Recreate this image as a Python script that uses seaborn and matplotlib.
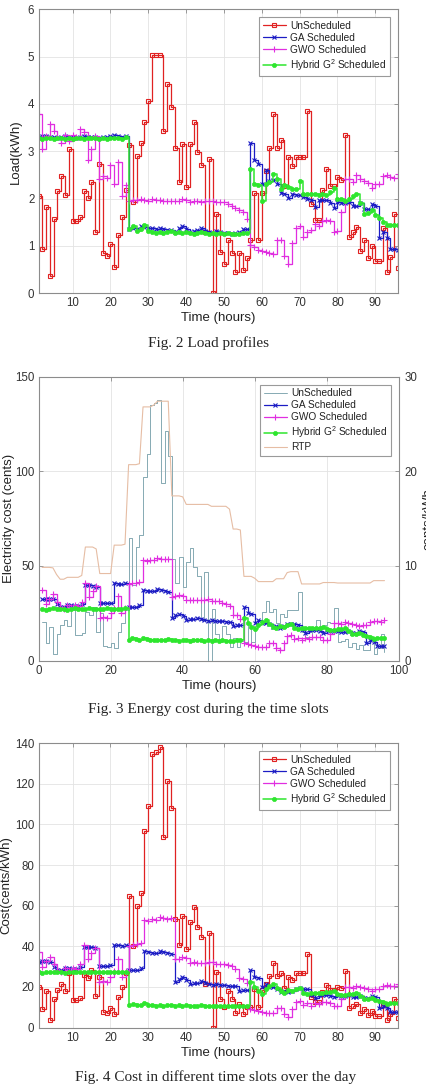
import numpy as np
import matplotlib
matplotlib.use("Agg")
import matplotlib.pyplot as plt
import seaborn as sns

hours = np.arange(1, 97)

# hourly load (kWh)
unsched_load = [
    2.05, 0.93, 1.83, 0.37, 1.57, 2.17, 2.47, 2.07, 3.04, 1.53,
    1.53, 1.62, 2.16, 2.02, 2.36, 1.30, 2.73, 0.85, 0.78, 1.04,
    0.55, 1.23, 1.62, 2.19, 3.14, 1.93, 2.89, 3.18, 3.61, 4.07,
    5.03, 5.03, 5.03, 3.43, 4.43, 3.94, 3.07, 2.35, 3.16, 2.24,
    3.16, 3.61, 2.99, 2.71, 1.30, 2.83, 0.00, 1.67, 0.87, 0.62,
    1.12, 0.85, 0.44, 0.85, 0.50, 0.74, 1.13, 2.11, 1.12, 2.11,
    2.59, 3.07, 3.78, 3.07, 3.24, 2.27, 2.87, 2.69, 2.87, 2.87,
    2.87, 3.86, 1.88, 1.55, 1.55, 2.19, 2.62, 2.27, 2.27, 2.45,
    2.39, 3.35, 1.19, 1.29, 1.41, 0.89, 1.12, 0.75, 1.01, 0.69,
    0.69, 1.38, 0.44, 0.77, 1.67, 0.54]
ga_load = [
    3.30, 3.32, 3.33, 3.31, 3.30, 3.29, 3.30, 3.33, 3.31, 3.30,
    3.29, 3.30, 3.32, 3.31, 3.30, 3.30, 3.29, 3.30, 3.31, 3.33,
    3.35, 3.33, 3.30, 3.32, 1.36, 1.38, 1.36, 1.42, 1.40, 1.38,
    1.37, 1.36, 1.38, 1.36, 1.34, 1.33, 1.30, 1.38, 1.42, 1.36,
    1.30, 1.32, 1.33, 1.38, 1.32, 1.30, 1.28, 1.32, 1.30, 1.28,
    1.27, 1.25, 1.28, 1.30, 1.35, 1.35, 3.18, 2.82, 2.74, 2.30,
    2.60, 2.38, 2.40, 2.30, 2.12, 2.10, 2.02, 2.10, 2.07, 2.07,
    2.04, 2.00, 1.97, 1.83, 1.98, 1.98, 1.97, 1.91, 1.80, 1.93,
    1.90, 1.90, 1.93, 1.84, 1.84, 1.90, 1.78, 1.78, 1.88, 1.84,
    1.16, 1.30, 1.16, 0.94, 0.93, 0.91]
gwo_load = [
    3.78, 3.05, 3.32, 3.57, 3.42, 3.30, 3.17, 3.35, 3.22, 3.35,
    3.30, 3.47, 3.40, 2.82, 3.05, 3.32, 2.42, 2.48, 2.44, 2.72,
    2.30, 2.78, 2.05, 2.28, 1.95, 1.97, 1.98, 2.00, 1.98, 1.96,
    1.99, 1.97, 1.98, 1.96, 1.95, 1.96, 1.94, 1.95, 2.00, 1.97,
    1.93, 1.95, 1.94, 1.93, 1.94, 1.95, 1.96, 1.93, 1.92, 1.93,
    1.88, 1.85, 1.80, 1.75, 1.72, 1.58, 1.02, 0.98, 0.92, 0.90,
    0.88, 0.86, 0.84, 1.13, 1.13, 0.78, 0.62, 1.07, 1.38, 1.42,
    1.20, 1.30, 1.33, 1.47, 1.42, 1.53, 1.55, 1.52, 1.30, 1.32,
    1.72, 2.42, 2.42, 2.35, 2.50, 2.42, 2.38, 2.32, 2.22, 2.30,
    2.30, 2.48, 2.50, 2.45, 2.43, 2.52]
hybrid_load = [
    3.28, 3.27, 3.29, 3.28, 3.26, 3.28, 3.29, 3.27, 3.28, 3.27,
    3.29, 3.28, 3.27, 3.28, 3.29, 3.28, 3.27, 3.28, 3.26, 3.28,
    3.29, 3.28, 3.27, 3.30, 1.35, 1.42, 1.32, 1.35, 1.45, 1.32,
    1.30, 1.28, 1.30, 1.27, 1.30, 1.32, 1.28, 1.30, 1.27, 1.30,
    1.28, 1.25, 1.27, 1.30, 1.28, 1.25, 1.27, 1.25, 1.27, 1.25,
    1.27, 1.25, 1.26, 1.25, 1.27, 1.28, 2.62, 2.30, 2.28, 1.95,
    2.30, 2.35, 2.52, 2.42, 2.20, 2.28, 2.25, 2.20, 2.20, 2.38,
    2.10, 2.10, 2.10, 2.10, 2.08, 2.10, 2.08, 2.15, 2.22, 2.00,
    2.00, 1.95, 2.00, 2.05, 2.10, 1.90, 1.68, 1.70, 1.75, 1.65,
    1.60, 1.50, 1.45, 1.45, 1.45, 1.45]

# real-time price (cents/kWh), right axis of Fig. 3
rtp = [
    9.85, 9.85, 9.85, 9.80, 9.10, 8.60, 8.60, 8.80, 8.80, 8.80,
    8.80, 9.00, 12.0, 12.0, 12.0, 11.8, 9.20, 9.20, 9.20, 9.20,
    12.2, 12.2, 12.2, 12.3, 20.7, 20.7, 20.7, 20.8, 26.8, 26.8,
    26.8, 27.0, 27.4, 27.4, 27.4, 27.4, 17.4, 17.4, 17.4, 17.3,
    16.5, 16.5, 16.5, 16.5, 16.5, 16.5, 16.5, 16.3, 16.3, 16.3,
    16.3, 16.3, 16.0, 13.9, 13.9, 13.8, 8.90, 8.90, 8.90, 8.70,
    8.35, 8.35, 8.35, 8.35, 8.35, 8.65, 8.65, 8.65, 9.30, 9.40,
    9.40, 9.40, 8.10, 8.10, 8.10, 8.10, 8.10, 8.10, 8.25, 8.25,
    8.25, 8.25, 8.20, 8.20, 8.20, 8.20, 8.20, 8.20, 8.20, 8.20,
    8.20, 8.20, 8.45, 8.45, 8.45, 8.45]

# hybrid cost curve (it is not load x price)
hybrid_cost = [
    27.5, 27.0, 27.3, 27.6, 27.2, 27.5, 27.3, 27.0, 27.4, 27.6,
    27.2, 27.5, 27.3, 27.6, 27.4, 27.2, 27.5, 27.3, 27.6, 27.4,
    27.2, 27.5, 27.3, 27.6, 11.0, 11.8, 11.2, 11.0, 12.0, 11.3,
    11.0, 10.8, 11.0, 10.7, 11.0, 11.2, 10.8, 11.0, 10.6, 11.0,
    10.8, 10.5, 10.7, 11.0, 10.8, 10.5, 10.7, 10.5, 10.7, 10.5,
    10.7, 10.5, 10.6, 10.5, 10.7, 10.8, 22.5, 20.0, 18.0, 16.5,
    19.0, 20.5, 21.5, 19.5, 18.0, 17.0, 18.5, 18.0, 19.0, 19.5,
    17.0, 16.5, 17.0, 17.0, 17.0, 17.0, 17.5, 17.5, 18.0, 16.5,
    16.0, 16.0, 16.5, 16.5, 17.0, 15.5, 14.0, 14.0, 14.5, 13.5,
    13.0, 12.5, 11.5, 12.0, 12.0, 12.0]

# the other cost curves in Fig. 3/4 are hourly load times the RTP
unsched_cost = np.array(unsched_load) * np.array(rtp)
ga_cost = np.array(ga_load) * np.array(rtp)
gwo_cost = np.array(gwo_load) * np.array(rtp)

labels = ["UnScheduled", "GA Scheduled", "GWO Scheduled", "Hybrid G$^{2}$ Scheduled"]

sns.set_theme(style="whitegrid")
plt.rcParams["font.family"] = ["Liberation Sans", "DejaVu Sans"]
plt.rcParams["mathtext.fontset"] = "custom"
plt.rcParams["mathtext.rm"] = "Liberation Sans"
plt.rcParams["mathtext.it"] = "Liberation Sans"

RED = "#e02222"
BLUE = "#1c1cc4"
MAG = "#e02ee0"
GRN = "#2ee62e"
# seaborn gives markers a white edge by default, so set the edge colour explicitly
styles = [
    dict(color=RED, marker="s", markersize=3.4, markerfacecolor="none",
         markeredgecolor=RED, markeredgewidth=0.8, linewidth=0.9),
    dict(color=BLUE, marker="x", markersize=3.2, markeredgecolor=BLUE,
         markeredgewidth=0.8, linewidth=0.9),
    dict(color=MAG, marker="+", markersize=4.2, markeredgecolor=MAG,
         markeredgewidth=0.8, linewidth=0.9),
    dict(color=GRN, marker="o", markersize=3.0, markeredgecolor=GRN,
         markeredgewidth=0.5, linewidth=1.1),
]


def style_axes(ax, right=True):
    ax.set_facecolor("white")
    ax.grid(True, color="#e3e3e3", linewidth=0.6)
    for sp in ax.spines.values():
        sp.set_visible(True)
        sp.set_color("#8c8c8c")
        sp.set_linewidth(0.8)
    ax.tick_params(direction="in", length=3, width=0.6, top=True, right=right,
                   labelsize=8.3, colors="#333333", pad=3, color="#8c8c8c")
    ax.tick_params(axis="both", labelcolor="#333333")


def add_legend(ax, handles, names):
    leg = ax.legend(handles, names, loc="upper right", fontsize=7.3, frameon=True,
                    fancybox=False, framealpha=1, edgecolor="#9a9a9a",
                    handlelength=2.3, labelspacing=0.2, borderpad=0.35,
                    borderaxespad=0.8, handletextpad=0.4)
    leg.get_frame().set_linewidth(0.8)
    for txt in leg.get_texts():
        txt.set_color("#222222")
    return leg


fig = plt.figure(figsize=(4.26, 10.9), dpi=100)

# ----- Fig. 2 load profiles -----
ax2 = fig.add_axes([0.0904, 0.7309, 0.8439, 0.2606])
for vals, st, lab in zip([unsched_load, ga_load, gwo_load, hybrid_load], styles, labels):
    sns.lineplot(x=hours, y=vals, ax=ax2, drawstyle="steps-post", label=lab, legend=False, **st)
ax2.set_xlim(1, 96)
ax2.set_ylim(0, 6)
ax2.set_xticks(range(10, 100, 10))
ax2.set_yticks(range(0, 7))
style_axes(ax2)
ax2.set_xlabel("Time (hours)", fontsize=9.5, color="#222222", labelpad=2)
ax2.set_ylabel("Load(kWh)", fontsize=9.5, color="#222222", labelpad=4)
h, l = ax2.get_legend_handles_labels()
add_legend(ax2, h, l)
fig.text(0.49, 0.6853, "Fig. 2 Load profiles", ha="center", va="center",
         fontsize=11, family="Liberation Serif")

# ----- Fig. 3 energy cost with RTP -----
ax3 = fig.add_axes([0.0904, 0.3939, 0.8460, 0.2606])
sns.lineplot(x=hours, y=unsched_cost, ax=ax3, drawstyle="steps-post", color="#86aab3",
             linewidth=0.7, label=labels[0], legend=False)
for vals, st, lab in zip([ga_cost, gwo_cost, hybrid_cost], styles[1:], labels[1:]):
    sns.lineplot(x=hours, y=vals, ax=ax3, drawstyle="steps-post", label=lab, legend=False, **st)
ax3.set_xlim(0, 100)
ax3.set_ylim(0, 150)
ax3.set_xticks(range(0, 101, 20))
ax3.set_yticks([0, 50, 100, 150])
style_axes(ax3, right=False)
ax3.set_xlabel("Time (hours)", fontsize=9.5, color="#222222", labelpad=2)
ax3.set_ylabel("Electricity cost (cents)", fontsize=9.5, color="#222222", labelpad=0)

ax3r = ax3.twinx()
sns.lineplot(x=hours, y=rtp, ax=ax3r, color="#e6bda4", linewidth=0.8, label="RTP", legend=False)
ax3r.set_ylim(0, 30)
ax3r.set_yticks([0, 10, 20, 30])
ax3r.grid(False)
for sp in ax3r.spines.values():
    sp.set_visible(False)
ax3r.tick_params(direction="in", length=3, width=0.6, right=True, labelsize=8.3,
                 colors="#333333", color="#8c8c8c", pad=4)
ax3r.set_ylabel("cents/kWh", fontsize=9.5, color="#222222", labelpad=4)
h1, l1 = ax3.get_legend_handles_labels()
h2, l2 = ax3r.get_legend_handles_labels()
add_legend(ax3r, h1 + h2, l1 + l2)
fig.text(0.49, 0.3495, "Fig. 3 Energy cost during the time slots", ha="center", va="center",
         fontsize=11, family="Liberation Serif")

# ----- Fig. 4 cost per time slot -----
ax4 = fig.add_axes([0.0904, 0.0572, 0.8439, 0.2611])
for vals, st, lab in zip([unsched_cost, ga_cost, gwo_cost, hybrid_cost], styles, labels):
    sns.lineplot(x=hours, y=vals, ax=ax4, drawstyle="steps-post", label=lab, legend=False, **st)
ax4.set_xlim(1, 96)
ax4.set_ylim(0, 140)
ax4.set_xticks(range(10, 100, 10))
ax4.set_yticks(range(0, 141, 20))
style_axes(ax4)
ax4.set_xlabel("Time (hours)", fontsize=9.5, color="#222222", labelpad=2)
ax4.set_ylabel("Cost(cents/kWh)", fontsize=9.5, color="#222222", labelpad=2)
h, l = ax4.get_legend_handles_labels()
add_legend(ax4, h, l)
fig.text(0.505, 0.0122, "Fig. 4 Cost in different time slots over the day", ha="center",
         va="center", fontsize=11, family="Liberation Serif")

fig.savefig("out.png", dpi=100, facecolor="white")
